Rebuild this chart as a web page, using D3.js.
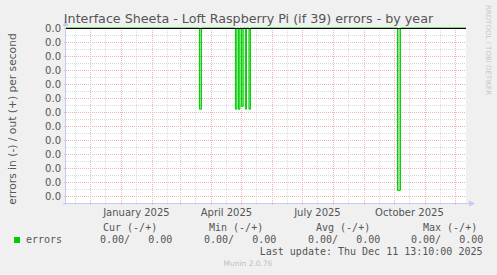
<!DOCTYPE html>
<html>
<head>
<meta charset="utf-8">
<script src="https://cdn.jsdelivr.net/npm/d3@7"></script>
<style>
  body { margin: 0; background: #f0f0f0; }
  svg { display: block; font-family: "DejaVu Sans", sans-serif; }
  .mono { font-family: "DejaVu Sans Mono", monospace; }
</style>
</head>
<body>
<div class="canvas"></div>
<script>
// data
const timeStart = new Date(2024, 10, 6, 13, 10);
const timeEnd = new Date(2025, 11, 11, 13, 10);
const spikeStarts = ['2025-03-20', '2025-04-25', '2025-04-28', '2025-05-01', '2025-05-04T22:00', '2025-05-08T12:00', '2025-10-04'];
const spikeEnds = ['2025-03-22', '2025-04-26T12:00', '2025-04-29T12:00', '2025-05-02T18:00', '2025-05-06', '2025-05-10', '2025-10-07'];
const spikeValues = [-0.0058, -0.0058, -0.0058, -0.0056, -0.0058, -0.0058, -0.0116];
const yTickValues = [0, -0.001, -0.002, -0.003, -0.004, -0.005, -0.006, -0.007, -0.008, -0.009, -0.010, -0.011, -0.012];
const xLabelMonths = ['2025-01', '2025-04', '2025-07', '2025-10'];
const legendHeaders = ['Cur (-/+)', 'Min (-/+)', 'Avg (-/+)', 'Max (-/+)'];
const legendValues = ['0.00/   0.00', '0.00/   0.00', '0.00/   0.00', '0.00/   0.00'];

const dims = { width: 497, height: 275 };
const plot = { left: 66, right: 466, top: 28, bottom: 203 };

const parse = (s) => new Date(s.length > 10 ? s : s + 'T00:00');

const svg = d3
  .select('.canvas')
  .append('svg')
  .attr('width', dims.width)
  .attr('height', dims.height);

svg.append('rect').attr('width', dims.width).attr('height', dims.height).attr('fill', '#f0f0f0');

const x = d3.scaleTime().domain([timeStart, timeEnd]).range([plot.left, plot.right]);
const y = d3.scaleLinear().domain([-0.0125, 0]).range([plot.bottom, plot.top]);

svg
  .append('rect')
  .attr('x', plot.left)
  .attr('y', plot.top)
  .attr('width', plot.right - plot.left)
  .attr('height', plot.bottom - plot.top)
  .attr('fill', '#fff');

const grid = svg.append('g').attr('shape-rendering', 'crispEdges');
const minorColor = '#dcdcdc';
const majorColor = '#efb6b6';

// minor horizontal lines (half steps)
grid
  .selectAll('.hminor')
  .data(yTickValues.map((v) => v - 0.0005))
  .enter()
  .append('line')
  .attr('x1', plot.left)
  .attr('x2', plot.right)
  .attr('y1', (d) => Math.round(y(d)) + 0.5)
  .attr('y2', (d) => Math.round(y(d)) + 0.5)
  .attr('stroke', minorColor)
  .attr('stroke-dasharray', '1,1');

// month and mid-month vertical lines
const months = d3.timeMonth.range(d3.timeMonth.ceil(timeStart), timeEnd);
const midMonths = d3.timeMonth
  .range(d3.timeMonth.floor(timeStart), timeEnd)
  .map((d) => d3.timeDay.offset(d, 15))
  .filter((d) => d > timeStart && d < timeEnd);

grid
  .selectAll('.vminor')
  .data(midMonths)
  .enter()
  .append('line')
  .attr('x1', (d) => Math.round(x(d)) + 0.5)
  .attr('x2', (d) => Math.round(x(d)) + 0.5)
  .attr('y1', plot.top)
  .attr('y2', plot.bottom + 2)
  .attr('stroke', minorColor)
  .attr('stroke-dasharray', '1,1');

grid
  .selectAll('.hmajor')
  .data(yTickValues)
  .enter()
  .append('line')
  .attr('x1', plot.left - 2)
  .attr('x2', plot.right)
  .attr('y1', (d) => Math.round(y(d)) + 0.5)
  .attr('y2', (d) => Math.round(y(d)) + 0.5)
  .attr('stroke', majorColor)
  .attr('stroke-dasharray', '1,1');

grid
  .selectAll('.vmajor')
  .data(months)
  .enter()
  .append('line')
  .attr('x1', (d) => Math.round(x(d)) + 0.5)
  .attr('x2', (d) => Math.round(x(d)) + 0.5)
  .attr('y1', plot.top)
  .attr('y2', plot.bottom + 3)
  .attr('stroke', majorColor)
  .attr('stroke-dasharray', '1,1');

// errors series
const spikes = spikeStarts.map((s, i) => ({ start: parse(s), end: parse(spikeEnds[i]), value: spikeValues[i] }));
const points = [{ date: timeStart, value: 0 }];
spikes.forEach((s) => {
  points.push({ date: s.start, value: 0 }, { date: s.start, value: s.value }, { date: s.end, value: s.value }, { date: s.end, value: 0 });
});
points.push({ date: timeEnd, value: 0 });

svg
  .append('g')
  .selectAll('rect')
  .data(spikes)
  .enter()
  .append('rect')
  .attr('x', (d) => x(d.start))
  .attr('width', (d) => x(d.end) - x(d.start))
  .attr('y', y(0))
  .attr('height', (d) => y(d.value) - y(0))
  .attr('fill', '#00cc00')
  .attr('opacity', 0.45);

const line = d3
  .line()
  .x((d) => x(d.date))
  .y((d) => y(d.value));

svg
  .append('path')
  .attr('d', line(points))
  .attr('fill', 'none')
  .attr('stroke', '#00cc00')
  .attr('stroke-width', 1);

// zero line
svg
  .append('line')
  .attr('x1', plot.left)
  .attr('x2', plot.right)
  .attr('y1', y(0) + 0.5)
  .attr('y2', y(0) + 0.5)
  .attr('stroke', '#000')
  .attr('shape-rendering', 'crispEdges');

// axes lines with arrows
const axisColor = '#c8c8f0';
svg
  .append('line')
  .attr('x1', plot.left - 0.5)
  .attr('x2', plot.left - 0.5)
  .attr('y1', plot.bottom + 2)
  .attr('y2', plot.top - 4)
  .attr('stroke', axisColor);
svg
  .append('path')
  .attr('d', `M${plot.left - 3.5},${plot.top - 2} L${plot.left - 0.5},${plot.top - 8} L${plot.left + 2.5},${plot.top - 2} Z`)
  .attr('fill', axisColor);
svg
  .append('line')
  .attr('x1', plot.left - 3)
  .attr('x2', plot.right + 4)
  .attr('y1', plot.bottom + 0.5)
  .attr('y2', plot.bottom + 0.5)
  .attr('stroke', axisColor);
svg
  .append('path')
  .attr('d', `M${plot.right + 3},${plot.bottom - 2.5} L${plot.right + 9},${plot.bottom + 0.5} L${plot.right + 3},${plot.bottom + 3.5} Z`)
  .attr('fill', axisColor);

// y tick labels
svg
  .append('g')
  .selectAll('text')
  .data(yTickValues)
  .enter()
  .append('text')
  .attr('x', plot.left - 5)
  .attr('y', (d) => y(d) + 4)
  .attr('text-anchor', 'end')
  .attr('font-size', 10)
  .attr('fill', '#555')
  .text((d) => d3.format('.1f')(d));

// x labels
svg
  .append('g')
  .selectAll('text')
  .data(xLabelMonths)
  .enter()
  .append('text')
  .attr('x', (d) => x(d3.timeDay.offset(parse(d + '-01'), 15)))
  .attr('y', 216)
  .attr('text-anchor', 'middle')
  .attr('font-size', 10)
  .attr('fill', '#555')
  .text((d) => d3.timeFormat('%B %Y')(parse(d + '-01')));

// title
svg
  .append('text')
  .attr('x', 248.5)
  .attr('y', 23)
  .attr('text-anchor', 'middle')
  .attr('font-size', 12.7)
  .attr('fill', '#555')
  .text('Interface Sheeta - Loft Raspberry Pi (if 39) errors - by year');

// vertical label
svg
  .append('text')
  .attr('transform', `translate(16, 119) rotate(-90)`)
  .attr('text-anchor', 'middle')
  .attr('font-size', 10.7)
  .attr('fill', '#555')
  .text('errors in (-) / out (+) per second');

svg
  .append('text')
  .attr('transform', 'translate(486, 5) rotate(90)')
  .attr('font-size', 7)
  .attr('fill', '#c8c8c8')
  .text('RRDTOOL / TOBI OETIKER');

// legend
const legend = svg.append('g').attr('class', 'mono').attr('font-size', 10).attr('fill', '#555');
const colX = [103, 209, 316, 423];
const valX = [100, 204, 308, 411];

legend
  .selectAll('.head')
  .data(legendHeaders)
  .enter()
  .append('text')
  .attr('x', (d, i) => colX[i])
  .attr('y', 231)
  .style('white-space', 'pre')
  .text((d) => d);

legend
  .selectAll('.val')
  .data(legendValues)
  .enter()
  .append('text')
  .attr('x', (d, i) => valX[i])
  .attr('y', 243)
  .style('white-space', 'pre')
  .text((d) => d);

svg.append('rect').attr('x', 14).attr('y', 237).attr('width', 6).attr('height', 6).attr('fill', '#00cc00');
legend.append('text').attr('x', 26).attr('y', 243).text('errors');

legend
  .append('text')
  .attr('x', 482.5)
  .attr('y', 255)
  .attr('text-anchor', 'end')
  .text('Last update: Thu Dec 11 13:10:00 2025');

svg
  .append('text')
  .attr('x', 248)
  .attr('y', 265.5)
  .attr('text-anchor', 'middle')
  .attr('font-size', 7.5)
  .attr('fill', '#c0c0c0')
  .text('Munin 2.0.76');
</script>
</body>
</html>
